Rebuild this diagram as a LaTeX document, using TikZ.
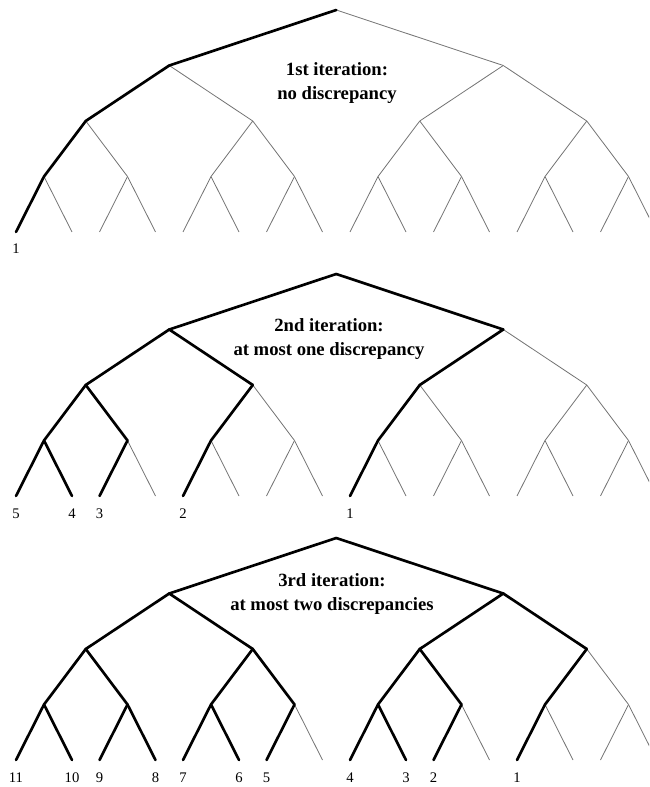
\documentclass[tikz,border=0pt]{standalone}
\usepackage{fontspec}
\setmainfont{Liberation Serif}
\usetikzlibrary{positioning}

\begin{document}
\begin{tikzpicture}[
    x=0.75pt, y=-0.75pt,
    font=\fontsize{11}{13}\selectfont,
    branch/.style={draw=black!55, line width=0.6pt},
    visited/.style={draw=black, line width=2pt, line cap=round},
    title/.style={font=\fontsize{14}{17.5}\selectfont\bfseries, align=center, inner sep=0pt},
    leaflabel/.style={anchor=base, inner sep=0pt, yshift=-16.5pt}
  ]
    \useasboundingbox (0,0) rectangle (649,787);
    \clip (0,0) rectangle (649,787);
    % three copies of the same binary tree, depth 4
    \foreach \t/\ty in {1/10,2/274,3/538} {
      \coordinate (t\t-0-0) at (336.25,\ty);
      \foreach \i in {0,1}
        \coordinate (t\t-1-\i) at (169.25+334*\i,\ty+55.5);
      \foreach \i in {0,...,3}
        \coordinate (t\t-2-\i) at (85.75+167*\i,\ty+111);
      \foreach \i in {0,...,7}
        \coordinate (t\t-3-\i) at (44+83.5*\i,\ty+166.5);
      \foreach \i in {0,...,15}
        \coordinate (t\t-4-\i) at ({16+83.5*int(\i/2)+56*mod(\i,2)},\ty+222);
      \foreach \l/\last in {1/1,2/3,3/7,4/15}
        \foreach \c in {0,...,\last} {
          \pgfmathtruncatemacro\p{\l-1}
          \pgfmathtruncatemacro\q{\c/2}
          \draw[branch] (t\t-\p-\q) -- (t\t-\l-\c);
        }
    }
    % visited branches (level/child)
    \foreach \l/\c in {1/0,2/0,3/0,4/0} {
      \pgfmathtruncatemacro\p{\l-1}
      \pgfmathtruncatemacro\q{\c/2}
      \draw[visited] (t1-\p-\q) -- (t1-\l-\c);
    }
    \foreach \l/\c in {1/0,1/1,2/0,2/1,2/2,3/0,3/1,3/2,3/4,4/0,4/1,4/2,4/4,4/8} {
      \pgfmathtruncatemacro\p{\l-1}
      \pgfmathtruncatemacro\q{\c/2}
      \draw[visited] (t2-\p-\q) -- (t2-\l-\c);
    }
    \foreach \l/\c in {1/0,1/1,2/0,2/1,2/2,2/3,3/0,3/1,3/2,3/3,3/4,3/5,3/6,
                       4/0,4/1,4/2,4/3,4/4,4/5,4/6,4/8,4/9,4/10,4/12} {
      \pgfmathtruncatemacro\p{\l-1}
      \pgfmathtruncatemacro\q{\c/2}
      \draw[visited] (t3-\p-\q) -- (t3-\l-\c);
    }
    % order in which the leaves are reached
    \node[leaflabel] (t1-n1) at (t1-4-0) {1};
    \foreach \i/\n in {0/5,1/4,2/3,4/2,8/1}
      \node[leaflabel] (t2-n\n) at (t2-4-\i) {\n};
    \foreach \i/\n in {0/11,1/10,2/9,3/8,4/7,5/6,6/5,8/4,9/3,10/2,12/1}
      \node[leaflabel] (t3-n\n) at (t3-4-\i) {\n};
    \node[title] (t1-title) at (337,83) {1st iteration:\\no discrepancy};
    \node[title] (t2-title) at (329,339) {2nd iteration:\\at most one discrepancy};
    \node[title] (t3-title) at (332,594) {3rd iteration:\\at most two discrepancies};
  \end{tikzpicture}
\end{document}
